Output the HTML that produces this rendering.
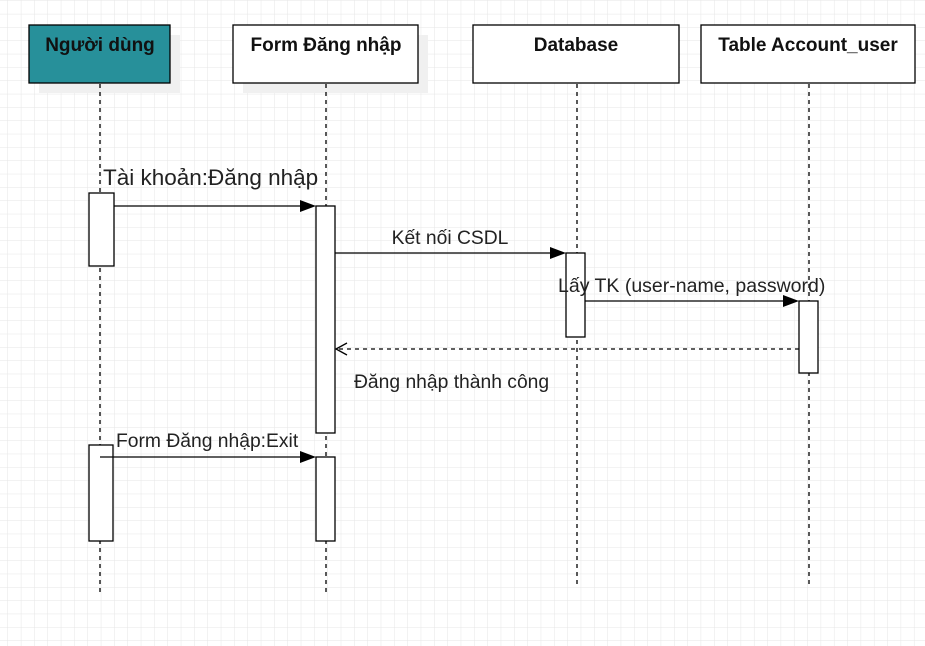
<!DOCTYPE html>
<html><head><meta charset="utf-8"><style>
html,body{margin:0;padding:0;background:#fff}
svg{display:block}
text{font-family:"Liberation Sans",sans-serif;fill:#222}
</style></head><body>
<svg width="925" height="646" viewBox="0 0 925 646" xmlns="http://www.w3.org/2000/svg">
<defs>
<pattern id="g" width="13.33" height="13.33" patternUnits="userSpaceOnUse" x="8" y="1">
<path d="M13.33 0V13.33M0 13.33H13.33" stroke="#e6e6e6" stroke-width="1" fill="none"/>
</pattern>
</defs>
<rect width="925" height="646" fill="url(#g)"/>
<g fill="#f0f0f0">
<rect x="39" y="35" width="141" height="58"/>
<rect x="243" y="35" width="185" height="58"/>
</g>
<g stroke="#000" stroke-width="1.3">
<rect x="29" y="25" width="141" height="58" fill="#27909a"/>
<rect x="233" y="25" width="185" height="58" fill="#fff"/>
<rect x="473" y="25" width="206" height="58" fill="#fff"/>
<rect x="701" y="25" width="214" height="58" fill="#fff"/>
</g>
<g font-weight="bold" font-size="19" text-anchor="middle">
<text x="100" y="51" style="fill:#111">Người dùng</text>
<text x="326" y="51" style="fill:#111">Form Đăng nhập</text>
<text x="576" y="51" style="fill:#111">Database</text>
<text x="808" y="51" style="fill:#111">Table Account_user</text>
</g>
<g stroke="#000" stroke-width="1.3" stroke-dasharray="4,4">
<line x1="100" y1="84" x2="100" y2="595"/>
<line x1="326" y1="84" x2="326" y2="595"/>
<line x1="577" y1="84" x2="577" y2="585"/>
<line x1="809" y1="84" x2="809" y2="585"/>
</g>
<g stroke="#000" stroke-width="1.3" fill="#fff">
<rect x="89" y="193" width="25" height="73"/>
<rect x="316" y="206" width="19" height="227"/>
<rect x="566" y="253" width="19" height="84"/>
<rect x="799" y="301" width="19" height="72"/>
<rect x="89" y="445" width="24" height="96"/>
<rect x="316" y="457" width="19" height="84"/>
</g>
<g stroke="#000" stroke-width="1.3">
<line x1="114" y1="206" x2="302" y2="206"/>
<line x1="335" y1="253" x2="552" y2="253"/>
<line x1="585" y1="301" x2="785" y2="301"/>
<line x1="100" y1="457" x2="302" y2="457"/>
<line x1="799" y1="349" x2="336" y2="349" stroke-dasharray="4,4"/>
<polyline points="347,343 336,349 347,355" fill="none"/>
</g>
<g fill="#000">
<polygon points="300,200 316,206 300,212"/>
<polygon points="550,247 566,253 550,259"/>
<polygon points="783,295 799,301 783,307"/>
<polygon points="300,451 316,457 300,463"/>
</g>
<text x="103" y="185" font-size="22.5">Tài khoản:Đăng nhập</text>
<text x="450" y="244" font-size="19.3" text-anchor="middle">Kết nối CSDL</text>
<text x="558" y="292" font-size="19.5">Lấy TK (user-name, password)</text>
<text x="354" y="388" font-size="19.3">Đăng nhập thành công</text>
<text x="116" y="447" font-size="19.3">Form Đăng nhập:Exit</text>
</svg>
</body></html>
